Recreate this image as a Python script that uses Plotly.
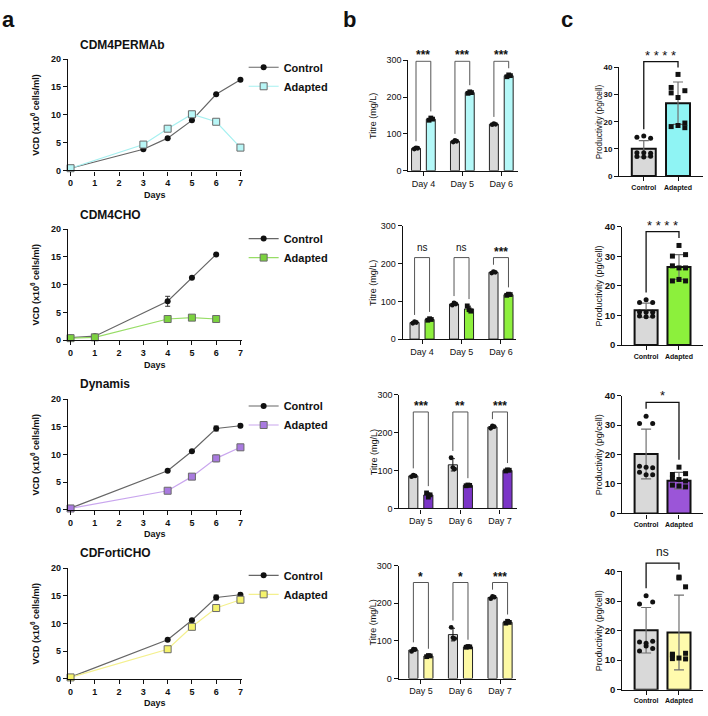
import numpy as np
import plotly.graph_objects as go

W, H = 708, 716
FONT = "Liberation Sans, Arial, Helvetica, sans-serif"

# ---------------- data ----------------
media = ["CDM4PERMAb", "CDM4CHO", "Dynamis", "CDFortiCHO"]

# (a) viable cell density (x10^6 cells/ml)
vcd_ctrl_days = [[0, 3, 4, 5, 6, 7], [0, 1, 4, 5, 6], [0, 4, 5, 6, 7], [0, 4, 5, 6, 7]]
vcd_ctrl = [[0.4, 3.8, 5.8, 9.0, 13.7, 16.3],
            [0.45, 0.7, 7.0, 11.25, 15.45],
            [0.3, 7.05, 10.6, 14.7, 15.2],
            [0.3, 7.05, 10.6, 14.7, 15.2]]
vcd_ctrl_sd = [[0, 0, 0, 0, 0, 0], [0, 0, 0.9, 0, 0], [0, 0, 0, 0.45, 0.35], [0, 0, 0, 0.45, 0.35]]
vcd_adap_days = [[0, 3, 4, 5, 6, 7], [0, 1, 4, 5, 6], [0, 4, 5, 6, 7], [0, 4, 5, 6, 7]]
vcd_adap = [[0.4, 4.65, 7.5, 10.1, 8.75, 4.1],
            [0.35, 0.5, 3.8, 4.05, 3.8],
            [0.25, 3.45, 6.0, 9.3, 11.3],
            [0.25, 5.35, 9.4, 12.8, 14.3]]
vcd_adap_sd = [[0, 0, 0, 0, 0, 0], [0, 0, 0, 0, 0], [0, 0, 0, 0.6, 0.3], [0, 0, 0.5, 0.5, 0.3]]
day_ticks = [0, 1, 2, 3, 4, 5, 6, 7]

# (b) titre (mg/L), three replicates per bar
titre_days = [["Day 4", "Day 5", "Day 6"], ["Day 4", "Day 5", "Day 6"],
              ["Day 5", "Day 6", "Day 7"], ["Day 5", "Day 6", "Day 7"]]
titre_ctrl_reps = [[[59, 62, 61], [78, 82, 80], [125, 128, 126]],
                   [[42, 46, 44], [90, 96, 93], [175, 179, 177]],
                   [[84, 88, 86], [134, 108, 104], [212, 218, 216]],
                   [[72, 78, 77], [136, 108, 106], [212, 218, 216]]]
titre_adap_reps = [[[137, 143, 140], [210, 214, 212], [255, 260, 258]],
                   [[50, 54, 52], [88, 78, 74], [116, 119, 118]],
                   [[41, 30, 36], [60, 62, 61], [99, 102, 101]],
                   [[58, 61, 60], [83, 85, 84], [147, 152, 149]]]
titre_sig = [["***", "***", "***"], ["ns", "ns", "***"], ["***", "**", "***"], ["*", "*", "***"]]

# (c) productivity (pg/cell)
prod_groups = ["Control", "Adapted"]
prod_ctrl_mean = [10.0, 11.8, 20.2, 20.1]
prod_ctrl_sd = [3.0, 2.4, 8.45, 7.7]
prod_adap_mean = [26.8, 26.4, 11.1, 19.35]
prod_adap_sd = [7.8, 4.2, 2.8, 12.65]
prod_ctrl_pts = [[14.3, 14.7, 13.9, 8.6, 8.6, 8.4, 7.2, 7.0, 7.3],
                 [14.4, 15.3, 14.4, 11.2, 11.1, 11.1, 9.8, 9.6, 9.7],
                 [30.5, 33.0, 30.5, 16.0, 15.7, 15.5, 14.0, 13.1, 13.1],
                 [29.0, 31.8, 29.7, 16.1, 14.8, 16.4, 13.1, 15.7, 13.9]]
prod_adap_pts = [[32.6, 37.4, 31.4, 30.6, 28.9, 19.5, 18.2, 18.6, 17.8],
                 [30.1, 33.7, 30.6, 26.8, 26.1, 26.1, 21.7, 22.2, 21.7],
                 [13.2, 15.7, 13.5, 12.0, 11.5, 11.0, 9.6, 9.3, 9.0],
                 [12.0, 38.1, 34.8, 11.7, 37.8, 12.3, 10.5, 10.7, 10.4]]
prod_sig = ["* * * *", "* * * *", "*", "ns"]

# ---------------- style ----------------
ctrl_bar = "#d9d9d9"
adap_line = ["#a6f0f0", "#97dd66", "#c9a6ee", "#f4f08e"]
adap_marker = ["#b8f6f6", "#7bd23e", "#a97ae0", "#f5f36c"]
adap_bar_b = ["#b4f8f8", "#8ef03e", "#7b35c7", "#fdf9a4"]
adap_bar_c = ["#8ff4f4", "#8cf03c", "#9b55d8", "#fffbad"]

A_BOX = [(68, 54, 242, 167), (68, 226.7, 242, 339.3), (68, 399.3, 242, 511.7), (68, 571, 242, 683.3)]
B_BOX = [(409, 55, 519, 167.3), (403.3, 223.3, 516.7, 338.3), (400, 395, 517.7, 510.3), (399.3, 568.3, 517, 683)]
C_BOX = [(620, 62.3, 704, 172.7), (623.3, 224.3, 704, 344.3), (623.3, 395.7, 704, 515.3), (623.3, 574.3, 704, 694.3)]
B_XR = [(-0.385, 2.436), (-0.49, 2.38), (-0.54, 2.43), (-0.56, 2.41)]
C_XR = [(-0.72, 1.73)] * 4
A_TITLE_Y = [40, 212, 384, 556]
A_DAYS_Y = [192, 365, 536, 708]
LEG_Y = [47.5, 221.5, 391.5, 563.5]
EXT = 40  # extra headroom (px) of the invisible bracket layer above panel c


def dom_x(l, r):
    return [l / W, r / W]


def dom_y(t, b):
    return [1 - b / H, 1 - t / H]


def ref(k, n):
    return k if n == 1 else f"{k}{n}"


def axname(k, n):
    return f"{k}axis" if n == 1 else f"{k}axis{n}"


fig = go.Figure()
layout = dict(width=W, height=H, margin=dict(l=0, r=0, t=0, b=0),
              paper_bgcolor="white", plot_bgcolor="rgba(0,0,0,0)",
              font=dict(family=FONT, color="#111"), showlegend=True)
ann = []

base_axis = dict(showline=True, linecolor="#111", linewidth=1.3, ticks="outside",
                 ticklen=4, tickwidth=1.2, tickcolor="#111", showgrid=False,
                 zeroline=False, fixedrange=True)

# ---------- panel a ----------
for i in range(4):
    n = i + 1
    l, t, r, b = A_BOX[i]
    leg = "legend" if i == 0 else f"legend{n}"
    fig.add_trace(go.Scatter(
        x=vcd_ctrl_days[i], y=vcd_ctrl[i], mode="lines+markers", name="Control",
        line=dict(color="#666666", width=1.2),
        marker=dict(symbol="circle", size=6, color="#111"),
        error_y=dict(type="data", array=vcd_ctrl_sd[i], color="#333", thickness=1, width=2.5),
        xaxis=ref("x", n), yaxis=ref("y", n), legend=leg, cliponaxis=False))
    fig.add_trace(go.Scatter(
        x=vcd_adap_days[i], y=vcd_adap[i], mode="lines+markers", name="Adapted",
        line=dict(color=adap_line[i], width=1.2),
        marker=dict(symbol="square", size=7, color=adap_marker[i], line=dict(color="#6a6a6a", width=1)),
        error_y=dict(type="data", array=vcd_adap_sd[i], color="#777", thickness=1, width=2.5),
        xaxis=ref("x", n), yaxis=ref("y", n), legend=leg, cliponaxis=False))
    layout[axname("x", n)] = dict(base_axis, domain=dom_x(l, r), range=[-0.11, 7.05],
                                  tickvals=day_ticks, anchor=ref("y", n),
                                  tickfont=dict(size=9, weight="bold", family=FONT))
    layout[axname("y", n)] = dict(base_axis, domain=dom_y(t, b), range=[0, 20],
                                  tickvals=[0, 5, 10, 15, 20], anchor=ref("x", n),
                                  tickfont=dict(size=9, weight="bold", family=FONT))
    layout[leg] = dict(x=244 / W, y=1 - LEG_Y[i] / H, xanchor="left", yanchor="top",
                       bgcolor="rgba(0,0,0,0)", tracegroupgap=0,
                       font=dict(family=FONT, size=11, color="#111", weight="bold"))
    ann.append(dict(text=media[i], x=78 / W, y=1 - A_TITLE_Y[i] / H, xref="paper", yref="paper",
                    xanchor="left", yanchor="middle", showarrow=False,
                    font=dict(size=12, weight="bold", family=FONT)))
    ann.append(dict(text="Days", x=155 / W, y=1 - A_DAYS_Y[i] / H, xref="paper", yref="paper",
                    xanchor="center", yanchor="middle", showarrow=False,
                    font=dict(size=9, weight="bold", family=FONT)))
    ann.append(dict(text="VCD (x10<sup>6</sup> cells/ml)", x=35 / W, y=1 - (t + b) / 2 / H,
                    xref="paper", yref="paper", textangle=-90, xanchor="center", yanchor="middle",
                    showarrow=False, font=dict(size=9, weight="bold", family=FONT)))

# ---------- panel b ----------
OFF_B, WID_B = 0.19, 0.23
jit_b = np.array([-0.045, 0.0, 0.045])
for i in range(4):
    n = i + 5
    l, t, r, b = B_BOX[i]
    xa, ya = ref("x", n), ref("y", n)
    idx = np.arange(len(titre_days[i]))
    creps = np.array(titre_ctrl_reps[i], dtype=float)
    areps = np.array(titre_adap_reps[i], dtype=float)
    for reps, off, col, sym in [(creps, -OFF_B, ctrl_bar, "circle"), (areps, OFF_B, adap_bar_b[i], "square")]:
        fig.add_trace(go.Bar(x=idx + off, y=reps.mean(axis=1), width=WID_B,
                             marker=dict(color=col, line=dict(color="#222", width=1)),
                             error_y=dict(type="data", array=reps.std(axis=1, ddof=1), color="#111",
                                          thickness=1, width=2),
                             xaxis=xa, yaxis=ya, showlegend=False))
        xs = (idx[:, None] + off + jit_b[None, :]).ravel()
        fig.add_trace(go.Scatter(x=xs, y=reps.ravel(), mode="markers",
                                 marker=dict(symbol=sym, size=4.8, color="#111"),
                                 xaxis=xa, yaxis=ya, showlegend=False, cliponaxis=False))
    top = max(creps.max(), areps.max()) + 37
    for k in idx:
        lb = creps[k].max() + 18
        rb = areps[k].max() + 18
        fig.add_trace(go.Scatter(x=[k - OFF_B, k - OFF_B, k + OFF_B, k + OFF_B], y=[lb, top, top, rb],
                                 mode="lines", line=dict(color="#555", width=1),
                                 xaxis=xa, yaxis=ya, showlegend=False, cliponaxis=False, hoverinfo="skip"))
        s = titre_sig[i][k]
        ann.append(dict(text=s, x=k, y=top, xref=xa, yref=ya, xanchor="center", yanchor="bottom",
                        yshift=3 if s == "ns" else -3, showarrow=False,
                        font=dict(size=10 if s == "ns" else 12, weight="normal" if s == "ns" else "bold",
                                  family=FONT)))
    layout[axname("x", n)] = dict(base_axis, domain=dom_x(l, r), range=list(B_XR[i]),
                                  tickvals=list(idx), ticktext=titre_days[i], anchor=ya,
                                  tickfont=dict(size=9, family=FONT))
    layout[axname("y", n)] = dict(base_axis, domain=dom_y(t, b), range=[0, 300],
                                  tickvals=[0, 100, 200, 300], anchor=xa,
                                  tickfont=dict(size=9, family=FONT))
    ann.append(dict(text="Titre (mg/L)", x=374 / W, y=1 - (t + b) / 2 / H, xref="paper", yref="paper",
                    textangle=-90, xanchor="center", yanchor="middle", showarrow=False,
                    font=dict(size=9, family=FONT)))

# ---------- panel c ----------
jit_c = np.array([-0.2, 0.0, 0.2, -0.2, 0.0, 0.2, -0.2, 0.0, 0.2])
for i in range(4):
    n = i + 9
    h = i + 13  # invisible overlay layer with headroom for the bracket
    l, t, r, b = C_BOX[i]
    xa, ya = ref("x", n), ref("y", n)
    xh, yh = ref("x", h), ref("y", h)
    fs = 8 if i == 0 else 9.5
    fig.add_trace(go.Bar(x=[0, 1], y=[prod_ctrl_mean[i], prod_adap_mean[i]], width=0.7,
                         marker=dict(color=[ctrl_bar, adap_bar_c[i]], line=dict(color="#111", width=2)),
                         error_y=dict(type="data", array=[prod_ctrl_sd[i], prod_adap_sd[i]],
                                      color="#707070", thickness=1.2, width=5),
                         xaxis=xa, yaxis=ya, showlegend=False))
    cp = np.array(prod_ctrl_pts[i])
    ap = np.array(prod_adap_pts[i])
    fig.add_trace(go.Scatter(x=0 + jit_c, y=cp, mode="markers",
                             marker=dict(symbol="circle", size=5, color="#111"),
                             xaxis=xa, yaxis=ya, showlegend=False, cliponaxis=False))
    fig.add_trace(go.Scatter(x=1 + jit_c, y=ap, mode="markers",
                             marker=dict(symbol="square", size=5, color="#111"),
                             xaxis=xa, yaxis=ya, showlegend=False, cliponaxis=False))
    top = max(cp.max(), ap.max()) + 4.7
    fig.add_trace(go.Scatter(x=[0, 0, 1, 1], y=[cp.max() + 2.5, top, top, ap.max() + 2.5],
                             mode="lines", line=dict(color="#111", width=1.3),
                             xaxis=xh, yaxis=yh, showlegend=False, hoverinfo="skip"))
    s = prod_sig[i]
    ann.append(dict(text=s, x=0.5, y=top, xref=xh, yref=yh, xanchor="center", yanchor="bottom",
                    yshift=2 if s == "ns" else -3, showarrow=False,
                    font=dict(size=12 if s == "ns" else 13, family=FONT)))
    layout[axname("x", n)] = dict(base_axis, domain=dom_x(l, r), range=list(C_XR[i]),
                                  tickvals=[0, 1], ticktext=prod_groups, anchor=ya,
                                  tickfont=dict(size=7, weight="bold", family=FONT))
    layout[axname("y", n)] = dict(base_axis, domain=dom_y(t, b), range=[0, 40],
                                  tickvals=[0, 10, 20, 30, 40], anchor=xa,
                                  tickfont=dict(size=fs, weight="bold", family=FONT))
    layout[axname("x", h)] = dict(domain=dom_x(l, r), range=list(C_XR[i]), visible=False,
                                  anchor=yh, fixedrange=True)
    layout[axname("y", h)] = dict(domain=dom_y(t - EXT, b), range=[0, 40 * (b - t + EXT) / (b - t)],
                                  visible=False, anchor=xh, fixedrange=True)
    ann.append(dict(text="Productivity (pg/cell)", x=599.5 / W, y=1 - (t + b) / 2 / H,
                    xref="paper", yref="paper", textangle=-90, xanchor="center", yanchor="middle",
                    showarrow=False, font=dict(size=8.3 if i == 0 else 9, family=FONT)))

# panel letters
for letter, xp in [("a", 9), ("b", 350), ("c", 568)]:
    ann.append(dict(text=letter, x=xp / W, y=1 - 14 / H, xref="paper", yref="paper",
                    xanchor="center", yanchor="middle", showarrow=False,
                    font=dict(size=22, weight="bold", family=FONT)))

layout["annotations"] = ann
layout["barmode"] = "overlay"
fig.update_layout(**layout)
fig.write_html("out.html")
